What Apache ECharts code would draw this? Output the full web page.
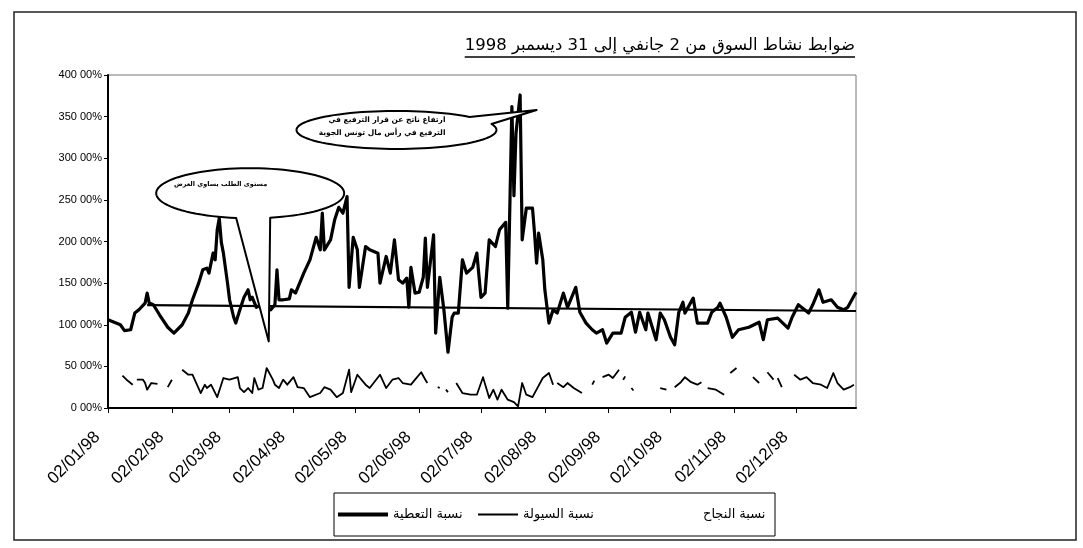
<!DOCTYPE html>
<html>
<head>
<meta charset="utf-8">
<script src="https://cdn.jsdelivr.net/npm/echarts@6/dist/echarts.min.js"></script>
<style>
  html, body { margin: 0; padding: 0; background: #fff; }
  #mainChart { width: 1083px; height: 548px; }
</style>
</head>
<body>
<div id="mainChart"></div>
<script>
var YEAR = 1998;

// نسبة التعطية (coverage ratio, %)
var coverDates = ['01-02','01-05','01-08','01-10','01-13','01-15','01-17','01-20','01-21','01-22','01-24','01-27','01-31',
  '02-03','02-07','02-10','02-12','02-15','02-17','02-19','02-20','02-22','02-23','02-24','02-25','02-26','02-27',
  '03-01','03-02','03-04','03-05','03-07','03-09','03-11','03-12','03-13','03-15','03-18','03-20','03-22','03-24','03-25','03-26','03-28','03-31',
  '04-01','04-03','04-07','04-10','04-13','04-15','04-16','04-17','04-20','04-22','04-24','04-26','04-28','04-29',
  '05-01','05-03','05-04','05-07','05-09','05-13','05-14','05-17','05-19','05-21','05-23','05-25','05-27','05-28','05-29','05-31',
  '06-02','06-04','06-05','06-06','06-09','06-10','06-12','06-14','06-16','06-18','06-19','06-21','06-23','06-25','06-28','06-30',
  '07-02','07-04','07-06','07-09','07-11','07-14','07-15','07-17','07-18','07-19','07-21','07-22','07-24','07-27','07-28','07-29','07-30',
  '08-01','08-02','08-04','08-06','08-08','08-11','08-13','08-17','08-19','08-22','08-25','08-27','08-30',
  '09-01','09-04','09-08','09-10','09-13','09-15','09-17','09-20','09-21','09-25','09-27','09-29',
  '10-02','10-04','10-06','10-08','10-09','10-13','10-15','10-20','10-22','10-25','10-26','10-29',
  '11-01','11-04','11-09','11-14','11-16','11-18','11-23','11-28','11-30',
  '12-03','12-05','12-08','12-10','12-13','12-15','12-19','12-22','12-25','12-27','12-29','12-31'];
var coverValues = [106,103,100,93,94,114,118,126,138,126,124,112,97,
  90,100,114,130,150,166,168,162,186,178,214,228,199,186,
  150,130,109,102,118,133,142,130,133,121,125,120,118,124,166,130,130,131,
  142,138,162,178,205,190,234,190,202,226,241,234,254,145,
  205,190,145,194,190,186,150,182,162,202,154,150,156,121,169,138,
  139,157,204,145,208,90,157,118,67,109,114,114,178,162,169,186,
  133,138,202,194,214,223,120,362,255,330,376,202,240,240,210,174,210,
  178,142,102,118,114,138,121,145,115,102,94,90,94,
  78,90,90,109,115,91,115,94,114,82,114,106,
  85,76,115,127,114,132,102,102,115,121,126,109,
  85,94,97,103,82,106,108,96,109,
  124,120,114,124,142,127,130,121,118,121,130,139];

// نسبة السيولة (liquidity ratio, %), null = gap in the line
var liqDates = ['01-09','01-11','01-14','01-15','01-16','01-19','01-20','01-21','01-23','01-26','01-27','01-31','02-02','02-04',
  '02-07','02-10','02-12','02-16','02-18','02-19','02-21','02-24','02-27','03-02','03-06','03-07','03-09','03-11','03-13','03-14',
  '03-16','03-18','03-20','03-23','03-24','03-26','03-28','03-30','04-02','04-04','04-07','04-10','04-15','04-17','04-20','04-23',
  '04-26','04-29','04-30','05-03','05-07','05-09','05-14','05-17','05-20','05-23','05-25','05-29','05-31','06-03','06-05','06-06',
  '06-08','06-11','06-12','06-13','06-15','06-16','06-17','06-20','06-23','06-27','06-30','07-03','07-06','07-08','07-10','07-12',
  '07-15','07-18','07-20','07-22','07-24','07-27','08-01','08-04','08-06','08-07','08-08','08-11','08-13','08-16','08-20','08-22',
  '08-25','08-26','08-28','08-30','09-02','09-04','09-07','09-08','09-09','09-10','09-12','09-13','09-14','09-16','09-27','09-30',
  '10-02','10-04','10-07','10-09','10-12','10-15','10-17','10-18','10-20','10-24','10-28','10-29','10-31','11-03','11-05','11-11',
  '11-14','11-15','11-18','11-21','11-22','11-23','11-25','11-27','12-01','12-04','12-07','12-10','12-14','12-17','12-20','12-22',
  '12-25','12-28','12-30'];
var liqValues = [39,34,28,null,34,34,30,22,30,29,null,25,34,null,
  46,40,40,18,28,24,28,13,36,34,37,24,19,24,18,36,
  22,24,48,34,28,24,34,28,37,25,24,13,18,25,22,13,
  18,46,19,40,28,24,40,24,34,36,30,28,34,43,34,30,
  null,25,24,null,22,19,null,30,18,16,16,37,12,22,10,22,
  10,7,2,30,16,13,36,42,28,null,30,25,30,24,18,null,
  28,33,null,37,40,36,46,null,34,38,null,24,21,null,24,22,
  null,25,31,37,31,28,31,null,24,22,16,null,42,48,null,37,
  30,null,43,34,null,36,25,null,40,34,37,30,28,24,42,30,
  22,25,28];

// straight reference line across the coverage ratio
var trendDates = ['01-21','12-31'];
var trendValues = [123.5, 116.5];

// x-axis tick labels (2nd of each month)
var tickDates = ['01-02','02-02','03-02','04-02','05-02','06-02','07-02','08-02','09-02','10-02','11-02','12-02'];

var titleText = 'ضوابط نشاط السوق من 2 جانفي إلى 31 ديسمبر 1998';
var note1 = ['مستوى الطلب يساوي العرض'];
var note2 = ['ارتفاع ناتج عن قرار الترفيع في', 'الترفيع في رأس مال تونس الجوية'];
var legendNames = ['نسبة التعطية', 'نسبة السيولة', 'نسبة النجاح'];

function toTime(md) {
  var p = md.split('-');
  return new Date(YEAR, +p[0] - 1, +p[1]).getTime();
}
function pairs(dates, values) {
  return dates.map(function (d, i) { return [toTime(d), values[i]]; });
}
function pad(n) { return n < 10 ? '0' + n : '' + n; }

var chart = echarts.init(document.getElementById('mainChart'));
var tickTimes = tickDates.map(toTime);
var arabicFont = '"DejaVu Sans", sans-serif';
var legendFontSize = 13;

var ctx = document.createElement('canvas').getContext('2d');
function textWidth(t, font) { ctx.font = font; return ctx.measureText(t).width; }
var firstLegendW = textWidth(legendNames[0], legendFontSize + 'px ' + arabicFont);

var legendText = { fontSize: legendFontSize, color: '#000', fontFamily: arabicFont };

var option = {
  animation: false,
  backgroundColor: '#fff',
  grid: {
    left: 108, right: 227, top: 75, bottom: 140,
    show: true, borderColor: '#777', borderWidth: 1
  },
  legend: [
    {
      // boxed legend, stretched to the full frame width
      data: [legendNames[0]],
      icon: 'rect',
      left: 334, top: 493,
      itemWidth: 50, itemHeight: 4,
      padding: [15, 441 - 4 - 55 - firstLegendW, 15, 4],
      borderColor: '#000', borderWidth: 1,
      textStyle: legendText
    },
    {
      data: [legendNames[1]],
      icon: 'rect',
      left: 478, top: 493,
      itemWidth: 40, itemHeight: 2,
      padding: [15, 0, 15, 0],
      textStyle: legendText
    },
    {
      data: [legendNames[2]],
      icon: 'rect',
      left: 690, top: 493,
      itemWidth: 8, itemHeight: 2,
      padding: [15, 0, 15, 0],
      textStyle: legendText
    }
  ],
  xAxis: {
    type: 'value',
    min: toTime('01-02'),
    max: toTime('12-31'),
    axisLine: { lineStyle: { color: '#000', width: 2 } },
    axisTick: { customValues: tickTimes, length: 5, lineStyle: { color: '#000' } },
    axisLabel: {
      customValues: tickTimes,
      rotate: 45,
      margin: 16,
      padding: [0, 15, 0, 0],
      fontSize: 17,
      color: '#000',
      fontFamily: '"Liberation Sans", Arial, sans-serif',
      formatter: function (v) {
        var d = new Date(v);
        return pad(d.getDate()) + '/' + pad(d.getMonth() + 1) + '/' + String(d.getFullYear()).slice(2);
      }
    },
    splitLine: { show: false }
  },
  yAxis: {
    type: 'value',
    min: 0, max: 400, interval: 50,
    axisLine: { show: true, lineStyle: { color: '#000', width: 2 } },
    axisTick: { show: true, length: 4, lineStyle: { color: '#000' } },
    axisLabel: {
      margin: 6, fontSize: 11, color: '#000',
      fontFamily: '"Liberation Sans", Arial, sans-serif',
      formatter: function (v) { return v + ' 00%'; }
    },
    splitLine: { show: false }
  },
  series: [
    {
      name: legendNames[0],
      type: 'line',
      symbol: 'none',
      data: pairs(coverDates, coverValues),
      lineStyle: { color: '#000', width: 3.2, join: 'round' },
      itemStyle: { color: '#000' },
      z: 4
    },
    {
      name: legendNames[1],
      type: 'line',
      symbol: 'none',
      connectNulls: false,
      data: pairs(liqDates, liqValues),
      lineStyle: { color: '#000', width: 1.8, join: 'round' },
      itemStyle: { color: '#000' },
      z: 3
    },
    {
      name: legendNames[2],
      type: 'line',
      symbol: 'none',
      data: [],
      lineStyle: { color: '#fff', width: 1 },
      itemStyle: { color: '#fff' }
    },
    {
      name: 'trend',
      type: 'line',
      symbol: 'none',
      data: pairs(trendDates, trendValues),
      lineStyle: { color: '#000', width: 2.2 },
      z: 3
    }
  ]
};

chart.setOption(option);

// title, frame and the two callouts
function px(md, v) { return chart.convertToPixel({ gridIndex: 0 }, [toTime(md), v]); }

var titleFont = '16.5px ' + arabicFont;
var titleW = textWidth(titleText, titleFont);
var titleRight = 855, titleY = 46;

// ellipse outline walked from angle a0 down to a1 (degrees), closed on the tail tip
function bubble(c, rx, ry, a0, a1, tip) {
  var pts = [], n = 90;
  for (var i = 0; i <= n; i++) {
    var a = (a0 + (a1 - a0) * i / n) * Math.PI / 180;
    pts.push([c[0] + rx * Math.cos(a), c[1] + ry * Math.sin(a)]);
  }
  pts.push(tip);
  return pts;
}
function deg(x) { return x * 180 / Math.PI; }

// callout 1: tail hangs from the bottom of the bubble
var c1 = px('03-12', 258), tip1 = px('03-21', 80), rx1 = 94, ry1 = 25;
var a1s = deg(Math.acos(20 / rx1)), a1e = deg(Math.acos(-14 / rx1)) - 360;
var poly1 = bubble(c1, rx1, ry1, a1s, a1e, tip1);

// callout 2: tail leaves the upper right of the bubble
var c2 = px('05-22', 334), tip2 = px('07-29', 358), rx2 = 100, ry2 = 19;
var a2s = -deg(Math.acos(73 / rx2)), a2e = -deg(Math.acos(95 / rx2)) - 360;
var poly2 = bubble(c2, rx2, ry2, a2s, a2e, tip2);

var note1Font = 'bold 6.5px ' + arabicFont;
var note2Font = 'bold 7.5px ' + arabicFont;

chart.setOption({
  graphic: [
    { type: 'rect', shape: { x: 14, y: 12, width: 1062, height: 528 }, style: { fill: null, stroke: '#222', lineWidth: 1.5 }, z: 100 },
    { type: 'text', x: titleRight, y: titleY, style: { text: titleText, font: titleFont, fill: '#000', textAlign: 'right', textVerticalAlign: 'middle' }, z: 100 },
    { type: 'line', shape: { x1: titleRight - titleW, y1: titleY + 11, x2: titleRight, y2: titleY + 11 }, style: { stroke: '#000', lineWidth: 1.5 }, z: 100 },
    { type: 'polygon', shape: { points: poly1 }, style: { fill: '#fff', stroke: '#000', lineWidth: 2, lineJoin: 'round' }, z: 100 },
    { type: 'text', x: c1[0] + 17, y: c1[1] - 9, style: { text: note1[0], font: note1Font, fill: '#000', textAlign: 'right', textVerticalAlign: 'middle' }, z: 101 },
    { type: 'polygon', shape: { points: poly2 }, style: { fill: '#fff', stroke: '#000', lineWidth: 2, lineJoin: 'round' }, z: 100 },
    { type: 'text', x: c2[0] + 49, y: c2[1] - 10, style: { text: note2[0], font: note2Font, fill: '#000', textAlign: 'right', textVerticalAlign: 'middle' }, z: 101 },
    { type: 'text', x: c2[0] + 49, y: c2[1] + 3, style: { text: note2[1], font: note2Font, fill: '#000', textAlign: 'right', textVerticalAlign: 'middle' }, z: 101 }
  ]
});

window.onresize = function () { chart.resize(); };
</script>
</body>
</html>
